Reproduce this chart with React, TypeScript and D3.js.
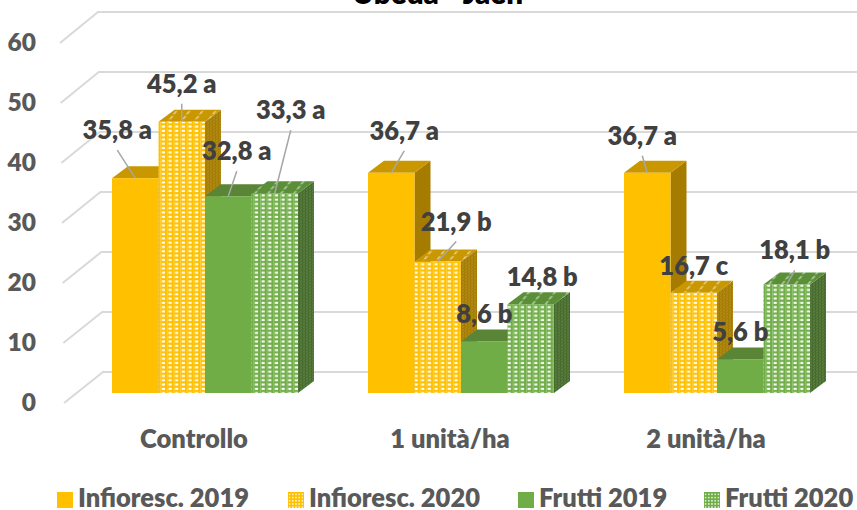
import React from "react";
import * as d3 from "d3";

const title = "Ubeda - Jaén";
const categories = ["Controllo", "1 unità/ha", "2 unità/ha"];
const seriesNames = ["Infioresc. 2019", "Infioresc. 2020", "Frutti 2019", "Frutti 2020"];
const infiorescenze2019 = [35.8, 36.7, 36.7];
const infiorescenze2020 = [45.2, 21.9, 16.7];
const frutti2019 = [32.8, 8.6, 5.6];
const frutti2020 = [33.3, 14.8, 18.1];
const letters2019I = ["a", "a", "a"];
const letters2020I = ["a", "b", "c"];
const letters2019F = ["a", "b", "b"];
const letters2020F = ["a", "b", "b"];
const yTicks = [0, 10, 20, 30, 40, 50, 60];

// label offsets from the top centre of each bar: [series][category] = [dx, dy]
const labelOffsets: [number, number][][] = [
  [[-18, -48], [13, -42], [-5, -37]],
  [[0, -38], [18.5, -40], [0, -27]],
  [[8.5, -45], [0, -27], [0, -27]],
  [[16, -83], [11.5, -27], [8, -34]],
];

const W = 857, H = 510;
const depthX = 16, depthY = 12;
const y = d3.scaleLinear().domain([0, 60]).range([393, 33]);
const backY = d3.scaleLinear().domain([0, 60]).range([372, 12]);
const frontGridY = d3.scaleLinear().domain([0, 60]).range([403, 43]);
const frontGridX = d3.scaleLinear().domain([0, 60]).range([64, 60]);
const backGridX = d3.scaleLinear().domain([0, 60]).range([103, 98]);
const groupX = d3.scalePoint<string>().domain(categories).range([112, 624]);
const barX = d3.scaleBand<number>().domain([0, 1, 2, 3]).range([0, 186]).padding(0);

const FONT = "Lato, 'Open Sans', sans-serif";
const WEIGHT = 800;
const seriesValues = [infiorescenze2019, infiorescenze2020, frutti2019, frutti2020];
const seriesLetters = [letters2019I, letters2020I, letters2019F, letters2020F];
const colours = [
  { front: "#FFC000", top: "#C99700", side: "#A67C00", patterned: false },
  { front: "#FFC000", top: "#C99700", side: "#A67C00", patterned: true },
  { front: "#70AD47", top: "#5A8537", side: "#466C2C", patterned: false },
  { front: "#70AD47", top: "#5A8F38", side: "#466C2C", patterned: true },
];

function Patterns() {
  const defs = [
    { id: "y", c: colours[1] },
    { id: "g", c: colours[3] },
  ];
  return (
    <defs>
      {defs.map(({ id, c }) => (
        <React.Fragment key={id}>
          <pattern id={`front-${id}`} width={6.65} height={8.6} patternUnits="userSpaceOnUse" patternTransform="translate(0.6 0)">
            <rect width={6.65} height={8.6} fill={c.front} />
            <rect x={1.6} y={0.8} width={3.2} height={2.1} fill="#fff" fillOpacity={0.95} />
            <rect x={1.6} y={5.1} width={3.2} height={2.1} fill="#fff" fillOpacity={0.95} />
            <rect x={0} y={0} width={0.9} height={8.6} fill="#fff" fillOpacity={0.25} />
          </pattern>
          <pattern id={`top-${id}`} width={13} height={5} patternUnits="userSpaceOnUse" patternTransform="skewX(-38)">
            <rect width={13} height={5} fill={c.top} />
            <rect x={2} y={1} width={2.4} height={3.4} fill="#fff" fillOpacity={0.45} />
          </pattern>
          <pattern id={`side-${id}`} width={3} height={3} patternUnits="userSpaceOnUse" patternTransform="skewY(-37)">
            <rect width={3} height={3} fill={c.side} />
            <rect x={0.4} y={0.4} width={1.2} height={1.2} fill="#fff" fillOpacity={0.3} />
          </pattern>
        </React.Fragment>
      ))}
      <pattern id="legend-y" width={3.2} height={3.2} patternUnits="userSpaceOnUse">
        <rect width={3.2} height={3.2} fill="#FFC000" />
        <rect x={0.8} y={0.8} width={1.5} height={1.5} fill="#fff" fillOpacity={0.85} />
      </pattern>
      <pattern id="legend-g" width={3.2} height={3.2} patternUnits="userSpaceOnUse">
        <rect width={3.2} height={3.2} fill="#70AD47" />
        <rect x={0.8} y={0.8} width={1.5} height={1.5} fill="#fff" fillOpacity={0.85} />
      </pattern>
    </defs>
  );
}

function Bar({ si, ci }: { si: number; ci: number }) {
  const c = colours[si];
  const v = seriesValues[si][ci];
  const x0 = (groupX(categories[ci]) as number) + (barX(si) as number);
  const w = barX.bandwidth();
  const yT = y(v), yB = y(0);
  const pid = si === 1 ? "y" : "g";
  const topPath = d3.path();
  topPath.moveTo(x0, yT);
  topPath.lineTo(x0 + depthX, yT - depthY);
  topPath.lineTo(x0 + w + depthX, yT - depthY);
  topPath.lineTo(x0 + w, yT);
  topPath.closePath();
  const sidePath = d3.path();
  sidePath.moveTo(x0 + w, yT);
  sidePath.lineTo(x0 + w + depthX, yT - depthY);
  sidePath.lineTo(x0 + w + depthX, yB - depthY);
  sidePath.lineTo(x0 + w, yB);
  sidePath.closePath();
  return (
    <g>
      <path d={sidePath.toString()} fill={c.patterned ? `url(#side-${pid})` : c.side} />
      <path d={topPath.toString()} fill={c.patterned ? `url(#top-${pid})` : c.top} />
      <rect x={x0} y={yT} width={w} height={yB - yT} fill={c.patterned ? `url(#front-${pid})` : c.front} />
    </g>
  );
}

function Labels() {
  const out: React.ReactNode[] = [];
  const lines: React.ReactNode[] = [];
  seriesValues.forEach((vals, si) =>
    vals.forEach((v, ci) => {
      const cx = (groupX(categories[ci]) as number) + (barX(si) as number) + barX.bandwidth() / 2;
      const ty = y(v);
      const [dx, dy] = labelOffsets[si][ci];
      const lx = cx + dx, ly = ty + dy;
      if (Math.abs(dy) > 30) {
        lines.push(
          <line key={`l${si}${ci}`} x1={lx} y1={ly + 20} x2={cx} y2={ty} stroke="#A6A6A6" strokeWidth={1.5} />
        );
      }
      out.push(
        <text key={`t${si}${ci}`} x={lx} y={ly} dy="0.35em" textAnchor="middle" fontFamily={FONT} fontWeight={WEIGHT} fontSize={25.5} fill="#404040">
          {`${String(v).replace(".", ",")} ${seriesLetters[si][ci]}`}
        </text>
      );
    })
  );
  return <g>{lines}{out}</g>;
}

const legendSwatchX = [57, 288, 518, 704];
const legendFills = ["#FFC000", "url(#legend-y)", "#70AD47", "url(#legend-g)"];

export default function App() {
  return (
    <svg width={W} height={H} viewBox={`0 0 ${W} ${H}`} style={{ position: "fixed", left: 0, top: 0, background: "#fff" }}>
      <Patterns />
      {yTicks.map((t) => (
        <g key={t}>
          <path
            d={`M${frontGridX(t)},${frontGridY(t)}L${backGridX(t)},${backY(t)}L${W},${backY(t)}`}
            fill="none" stroke="#D9D9D9" strokeWidth={2}
          />
          <text x={36} y={frontGridY(t) - 1} dy="0.35em" textAnchor="end" fontFamily={FONT} fontWeight={WEIGHT} fontSize={24.5} fill="#595959">{t}</text>
        </g>
      ))}
      {categories.map((_, ci) => seriesValues.map((__, si) => <Bar key={`${si}-${ci}`} si={si} ci={ci} />))}
      <Labels />
      {categories.map((c) => (
        <text key={c} x={(groupX(c) as number) + 82} y={448} textAnchor="middle" fontFamily={FONT} fontWeight={WEIGHT} fontSize={25.5} fill="#595959">{c}</text>
      ))}
      <text x={437.5} y={4} textAnchor="middle" fontFamily={FONT} fontWeight={WEIGHT} fontSize={29.5} fill="#000">{title}</text>
      {seriesNames.map((n, i) => (
        <g key={n}>
          <rect x={legendSwatchX[i]} y={492} width={16} height={16} fill={legendFills[i]} />
          <text x={legendSwatchX[i] + 21} y={507} fontFamily={FONT} fontWeight={WEIGHT} fontSize={25.5} fill="#595959">{n}</text>
        </g>
      ))}
    </svg>
  );
}
